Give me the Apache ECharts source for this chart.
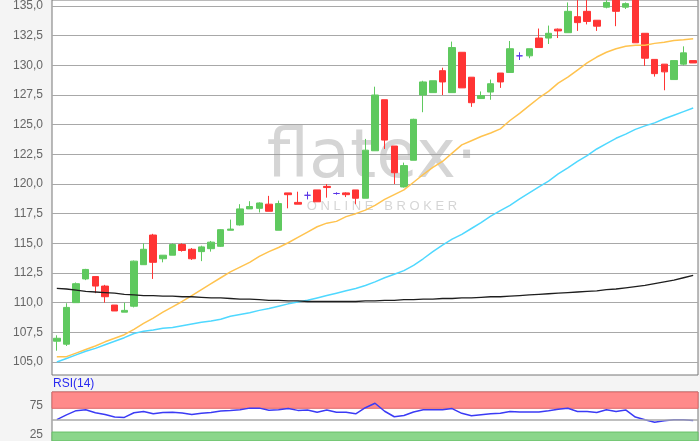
<!DOCTYPE html>
<html>
<head>
<meta charset="utf-8">
<script src="https://cdn.jsdelivr.net/npm/echarts@6/dist/echarts.min.js"></script>
<style>
  html, body { margin: 0; padding: 0; background: #f4f4f4; }
  #chartContainer { width: 700px; height: 441px; }
</style>
</head>
<body>
<div id="chartContainer"></div>
<script>
// trading days (x axis is hidden in the picture)
var days = ['1','2','3','4','5','6','7','8','9','10','11','12','13','14','15','16','17','18','19','20',
  '21','22','23','24','25','26','27','28','29','30','31','32','33','34','35','36','37','38','39','40',
  '41','42','43','44','45','46','47','48','49','50','51','52','53','54','55','56','57','58','59','60',
  '61','62','63','64','65','66','67'];

var opens = [106.75,106.5,110.0,112.0,112.2,111.4,109.8,109.2,109.7,113.2,115.7,113.7,114.0,114.9,114.5,114.3,114.55,114.75,116.1,116.55,
  117.9,117.95,118.3,116.1,119.25,118.45,119.05,119.5,119.8,119.2,119.25,119.5,118.8,122.8,127.1,123.2,119.75,122.0,127.5,127.7,
  129.55,127.7,131.1,129.0,127.2,127.75,129.35,129.4,130.8,130.8,132.3,132.3,133.05,132.75,134.1,134.55,133.8,134.9,135.5,134.9,
  136.0,132.7,130.5,130.1,128.8,130.1,130.4];
var closes = [107.0,109.6,111.6,112.8,111.4,110.5,109.3,109.35,113.5,114.5,113.4,114.0,114.9,114.4,113.7,114.7,115.1,116.15,116.2,117.9,
  118.1,118.4,117.7,118.35,119.1,118.3,119.05,118.5,119.7,119.2,119.1,118.8,122.85,127.5,123.7,120.95,121.55,125.45,128.6,128.7,
  128.6,131.5,128.1,126.85,127.45,128.45,128.6,131.4,130.8,131.4,131.5,132.7,132.9,134.55,133.6,133.7,133.3,135.3,134.55,135.2,
  131.9,130.6,129.3,129.45,130.4,131.05,130.2];
var lows = [105.95,106.35,110.0,111.9,110.8,110.0,109.3,109.2,109.6,113.2,112.0,113.4,114.0,114.3,113.6,113.5,114.3,114.7,116.1,116.5,
  117.9,117.6,117.7,116.1,117.95,118.3,118.7,118.5,118.85,119.1,118.9,118.3,118.8,122.8,122.95,120.0,119.7,122.0,126.05,127.7,
  127.5,127.7,128.1,126.5,127.2,127.1,128.1,129.4,130.45,130.6,131.5,131.8,132.3,132.75,132.9,133.45,132.9,134.8,133.3,134.75,
  131.9,129.95,129.05,127.9,128.8,130.0,130.2];
var highs = [107.25,109.95,111.7,112.85,112.2,111.5,109.8,110.0,113.55,115.0,115.8,114.0,115.0,115.0,114.6,114.8,115.2,116.2,117.0,118.3,
  118.55,118.45,119.0,118.6,119.25,119.35,119.35,119.5,120.0,119.3,119.3,119.5,123.8,128.2,127.1,123.2,121.8,125.5,128.7,128.7,
  129.8,132.0,131.1,129.0,127.8,128.8,129.35,132.05,131.1,131.4,133.1,133.35,133.1,135.3,135.5,135.5,133.8,135.5,135.8,135.3,
  136.2,132.7,130.5,130.1,130.4,131.6,130.4];

// moving averages as drawn
var maYellow = [105.45,105.45,105.75,106.05,106.35,106.7,107.0,107.3,107.75,108.25,108.7,109.2,109.65,110.1,110.6,111.1,111.6,112.1,112.6,113.0,
  113.4,113.9,114.3,114.65,115.05,115.5,115.95,116.4,116.7,116.85,117.25,117.5,117.8,118.2,118.7,119.1,119.5,120.15,120.8,121.4,
  121.9,122.6,123.3,123.65,124.0,124.3,124.65,125.35,125.95,126.6,127.25,127.8,128.5,129.0,129.6,130.2,130.7,131.1,131.4,131.6,
  131.7,131.7,131.85,131.95,132.1,132.15,132.25];
var maCyan = [105.0,105.3,105.6,105.9,106.15,106.45,106.75,107.05,107.4,107.6,107.7,107.85,107.9,108.05,108.2,108.35,108.45,108.6,108.85,109.0,
  109.15,109.35,109.5,109.7,109.9,110.05,110.2,110.4,110.6,110.8,111.0,111.2,111.45,111.75,112.1,112.4,112.7,113.15,113.7,114.3,
  114.85,115.35,115.75,116.25,116.75,117.3,117.75,118.2,118.75,119.25,119.75,120.25,120.85,121.35,121.9,122.4,122.95,123.4,123.85,124.2,
  124.6,124.9,125.15,125.5,125.8,126.1,126.4];
var maBlack = [111.2,111.15,111.05,110.95,110.9,110.85,110.8,110.7,110.65,110.6,110.6,110.55,110.55,110.5,110.5,110.45,110.4,110.4,110.35,110.3,
  110.3,110.25,110.2,110.2,110.15,110.15,110.1,110.1,110.1,110.1,110.1,110.1,110.15,110.15,110.2,110.2,110.25,110.25,110.3,110.3,
  110.35,110.35,110.4,110.4,110.45,110.5,110.5,110.55,110.6,110.65,110.7,110.75,110.8,110.85,110.9,110.95,111.0,111.1,111.15,111.25,
  111.35,111.45,111.6,111.75,111.9,112.1,112.3];

var rsi = [51,59,66,67.5,62.5,59.5,55.3,54.7,62.5,64.7,60.8,63,63.3,62,59.5,61.5,63,65.3,66.3,67.5,
  70.3,70.3,66.8,67.7,69.5,66.5,67.3,63.5,67,63.3,63.4,60.8,71,78.6,65,55.8,57.8,63.8,67.5,67.5,
  67.5,69.5,61.5,57.5,59.2,60.8,61.5,64.6,63.6,63.6,63.6,65.8,68.6,70,64.7,64.7,63,67.5,64.8,67.3,
  55.3,50.8,46.6,49,50.8,50.8,49.5];

var priceTicks = { min: 105, max: 135, step: 2.5 };
var rsiLabels = [75, 25];

var candles = [];
for (var i = 0; i < days.length; i++) {
  candles.push([opens[i], closes[i], lows[i], highs[i]]);
}

var myChart = echarts.init(document.getElementById('chartContainer'));
var labelFont = 'Liberation Sans';
var wmColor = 'rgba(150,150,150,0.4)';

var option = {
  animation: false,
  backgroundColor: '#f4f4f4',
  title: {
    text: 'RSI(14)',
    left: 53,
    top: 378,
    padding: 0,
    textStyle: { color: '#2a2af0', fontSize: 12, fontWeight: 'normal', fontFamily: labelFont }
  },
  graphic: [
    {
      type: 'text', x: 372, y: 160, z: 1, silent: true,
      style: { text: 'flatex\u00b7', fill: wmColor, font: '67px "DejaVu Sans"', align: 'center', verticalAlign: 'middle' }
    },
    {
      type: 'text', x: 382, y: 206, z: 1, silent: true,
      style: { text: 'O N L I N E   B R O K E R', fill: wmColor, font: '13px "Liberation Sans"', align: 'center', verticalAlign: 'middle' }
    }
  ],
  grid: [
    { left: 52, right: 2, top: -20, height: 395, show: true, backgroundColor: '#fff', borderColor: '#777', borderWidth: 1, z: -1 },
    { left: 52, right: 2, top: 2, height: 360 },
    { left: 52, right: 2, top: 392, bottom: 0, show: true, backgroundColor: '#fff', borderColor: '#777', borderWidth: 1 }
  ],
  xAxis: [
    { gridIndex: 0, type: 'category', data: days, show: false },
    { gridIndex: 1, type: 'category', data: days, show: false },
    { gridIndex: 2, type: 'category', data: days, show: false }
  ],
  yAxis: [
    { gridIndex: 0, type: 'value', show: false, min: 0, max: 1 },
    {
      gridIndex: 1, type: 'value', min: priceTicks.min, max: priceTicks.max, interval: priceTicks.step,
      axisLine: { show: false }, axisTick: { show: false },
      axisLabel: {
        color: '#666', fontSize: 12, fontFamily: labelFont, margin: 9,
        formatter: function (v) { return v.toFixed(1).replace('.', ','); }
      },
      splitLine: { lineStyle: { color: '#a8a8a8', width: 1 } }
    },
    {
      gridIndex: 2, type: 'value', min: 15, max: 97.5, interval: 5,
      axisLine: { show: false }, axisTick: { show: false }, splitLine: { show: false },
      axisLabel: {
        color: '#666', fontSize: 12, fontFamily: labelFont, margin: 9, padding: [7, 0, 0, 0],
        showMinLabel: false, showMaxLabel: false,
        formatter: function (v) { return rsiLabels.indexOf(v) >= 0 ? String(v) : ''; }
      }
    }
  ],
  series: [
    {
      name: 'Kurs',
      type: 'candlestick',
      xAxisIndex: 1, yAxisIndex: 1,
      data: candles,
      barWidth: 7,
      clip: false,
      itemStyle: {
        color: '#5fc95f', color0: '#ff3434',
        borderColor: '#5fc95f', borderColor0: '#ff3434',
        borderColorDoji: '#5a35e6', borderWidth: 1
      }
    },
    {
      name: 'GD38', type: 'line', xAxisIndex: 1, yAxisIndex: 1, data: maYellow,
      symbol: 'none', lineStyle: { color: '#ffc34f', width: 1.5 }, z: 3
    },
    {
      name: 'GD100', type: 'line', xAxisIndex: 1, yAxisIndex: 1, data: maCyan,
      symbol: 'none', lineStyle: { color: '#4fd8ff', width: 1.5 }, z: 3
    },
    {
      name: 'GD200', type: 'line', xAxisIndex: 1, yAxisIndex: 1, data: maBlack,
      symbol: 'none', lineStyle: { color: '#1e1e1e', width: 1.3 }, z: 3
    },
    {
      name: 'RSI(14)', type: 'line', xAxisIndex: 2, yAxisIndex: 2, data: rsi,
      symbol: 'none', lineStyle: { color: '#3b3bf5', width: 1.5 }, z: 4,
      markArea: {
        silent: true,
        data: [
          [{ yAxis: 70, itemStyle: { color: '#ff8a8a', borderColor: '#e06868', borderWidth: 1 } }, { yAxis: 97.5 }],
          [{ yAxis: 15, itemStyle: { color: '#8bd68b', borderColor: '#68bf68', borderWidth: 1 } }, { yAxis: 30 }]
        ]
      },
      markLine: {
        silent: true, symbol: 'none', label: { show: false },
        lineStyle: { color: '#aaaaaa', type: 'solid', width: 1.5 },
        data: [{ yAxis: 50 }]
      }
    }
  ]
};

myChart.setOption(option);
</script>
</body>
</html>
